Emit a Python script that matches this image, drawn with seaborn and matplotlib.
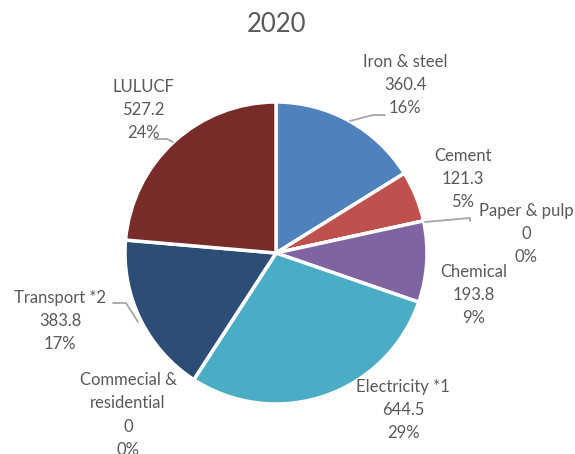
import matplotlib
matplotlib.use("Agg")
import matplotlib.pyplot as plt
import seaborn as sns

sns.set_theme(style="white")
plt.rcParams['font.family'] = ['Lato', 'DejaVu Sans']

# ---- data ----
categories = ["Iron & steel", "Cement", "Paper & pulp", "Chemical",
              "Electricity *1", "Commecial &\nresidential", "Transport *2", "LULUCF"]
values = [360.4, 121.3, 0, 193.8, 644.5, 0, 383.8, 527.2]
title = "2020"
colors = ["#4F81BD", "#C0504D", "#9BBB59", "#8064A2",
          "#4BACC6", "#F79646", "#2C4D75", "#772C2A"]

# ---- layout (pixels) ----
W, H = 575, 454
CX, CY, R = 276, 253, 151
label_pos = [(405, 85), (463, 179), (526, 234), (474, 295),
             (403, 410), (128, 415), (60, 321), (143, 110)]
leaders = [
    [(350, 121), (373, 115), (385, 115)],
    None,
    [(425, 222), (470, 218), (470, 221)],
    None,
    None,
    None,
    [(113, 303), (126, 303), (138, 322)],
    [(155, 139), (167, 139), (173, 142)],
]
TXT = "#595959"

fig = plt.figure(figsize=(W / 100, H / 100), dpi=100)
ax = fig.add_axes([0, 0, 1, 1])
ax.pie(values, colors=colors, startangle=90, counterclock=False, radius=1,
       wedgeprops=dict(edgecolor="white", linewidth=2.5))
ax.set_xlim(-CX / R, (W - CX) / R)
ax.set_ylim(-(H - CY) / R, CY / R)
ax.set_aspect('auto')
ax.axis('off')


def px(x, y):
    return ((x - CX) / R, (CY - y) / R)


total = sum(values)
for cat, v, pos, ld in zip(categories, values, label_pos, leaders):
    txt = f"{cat}\n{v:g}\n{v / total:.0%}"
    x, y = px(*pos)
    ax.text(x, y, txt, ha="center", va="center", fontsize=12, color=TXT,
            linespacing=1.55)
    if ld:
        xs, ys = zip(*[px(a, b) for a, b in ld])
        ax.plot(xs, ys, color="#A6A6A6", lw=1.3)

fig.text(276 / W, 1 - 25 / H, title, ha="center", va="center",
         fontsize=18.5, color=TXT)

fig.savefig("out.png", dpi=100)
